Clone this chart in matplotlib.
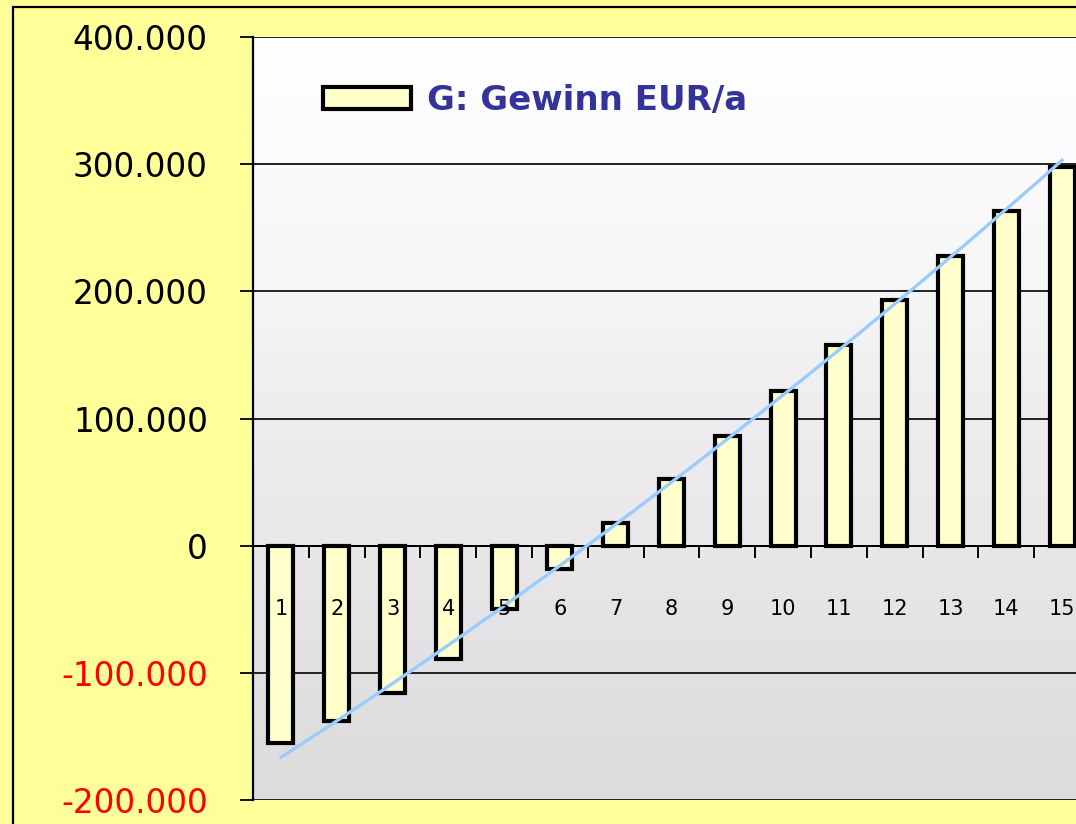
import numpy as np
import matplotlib
matplotlib.use("Agg")
import matplotlib.pyplot as plt
from matplotlib.colors import LinearSegmentedColormap
from matplotlib.patches import Rectangle

# data
years = list(range(1, 16))
gewinn = [-155000, -137500, -115500, -89500, -49500, -18000, 18000, 52500,
          86500, 122000, 157500, 193000, 228000, 263500, 297500]
yticks = [-200000, -100000, 0, 100000, 200000, 300000, 400000]
label = "G: Gewinn EUR/a"


def de_fmt(v):
    # German thousands separator
    s = f"{abs(v):,}".replace(",", ".")
    return "-" + s if v < 0 else s


fig = plt.figure(figsize=(10.76, 8.24), dpi=100, facecolor="#FFFF99")
ax = fig.add_axes([253 / 1076, 24 / 824, 837 / 1076, 763 / 824])

# outer frame of the chart area
fig.patches.append(Rectangle((13 / 1076, -0.1), 1.2, 817 / 824 + 0.1,
                             transform=fig.transFigure, fill=False,
                             edgecolor="black", linewidth=1.6, zorder=0))

# plot area gradient (white at top, light grey at bottom)
cmap = LinearSegmentedColormap.from_list(
    "bg", [(0.0, "#DCDCDC"), (0.17, "#E2E0E2"), (0.33, "#E9E7E9"),
           (0.5, "#EEECEE"), (0.67, "#F6F6F6"), (0.83, "#FCFAFC"), (1.0, "#FFFFFF")])
grad = np.linspace(1, 0, 256).reshape(-1, 1)
ax.imshow(grad, extent=[0, 1, 0, 1], transform=ax.transAxes, aspect="auto",
          cmap=cmap, vmin=0, vmax=1, zorder=0)

ax.bar(years, gewinn, width=0.45, color="#FFFFCC", edgecolor="black",
       linewidth=3, zorder=3, label=label)

# polynomial (2nd order) trend line over the bars
coef = np.polyfit(years, gewinn, 2)
xt = np.linspace(years[0], years[-1], 200)
ax.plot(xt, np.polyval(coef, xt), color="#99CCFF", linewidth=2.4, zorder=4)

ax.set_xlim(0.5, 15.5)
ax.set_ylim(yticks[0], yticks[-1])

ax.set_yticks(yticks)
ax.set_yticklabels([de_fmt(v) for v in yticks], fontsize=23.5)
for t, v in zip(ax.get_yticklabels(), yticks):
    t.set_color("#FF0000" if v < 0 else "black")
ax.tick_params(axis="y", length=9.5, width=1.3, pad=23, color="black")
ax.yaxis.grid(True, color="#222222", linewidth=1.4, zorder=1)
ax.set_axisbelow(True)

# x axis sits at zero with ticks between the bars
ax.spines["bottom"].set_position(("data", 0))
ax.spines["bottom"].set_linewidth(1.4)
ax.spines["left"].set_linewidth(1.6)
ax.spines["top"].set_visible(False)
ax.spines["right"].set_visible(False)
ax.set_xticks(years)
ax.set_xticklabels([])
ax.tick_params(axis="x", which="major", length=0)
ax.set_xticks([y + 0.5 for y in years[:-1]], minor=True)
ax.tick_params(axis="x", which="minor", direction="out", length=8.5, width=1.4)
for x in years:
    ax.text(x, -50000, str(x), ha="center", va="center", fontsize=15, zorder=5)

leg = ax.legend(loc="upper left", bbox_to_anchor=(323 / 1076, 1 - 84 / 824),
                bbox_transform=fig.transFigure, frameon=False,
                handlelength=2.6, handleheight=0.6, handletextpad=0.45,
                borderpad=0, borderaxespad=0, labelcolor="#333399",
                prop={"weight": "bold", "size": 24.5})

fig.savefig("out.png", dpi=100, facecolor=fig.get_facecolor())
